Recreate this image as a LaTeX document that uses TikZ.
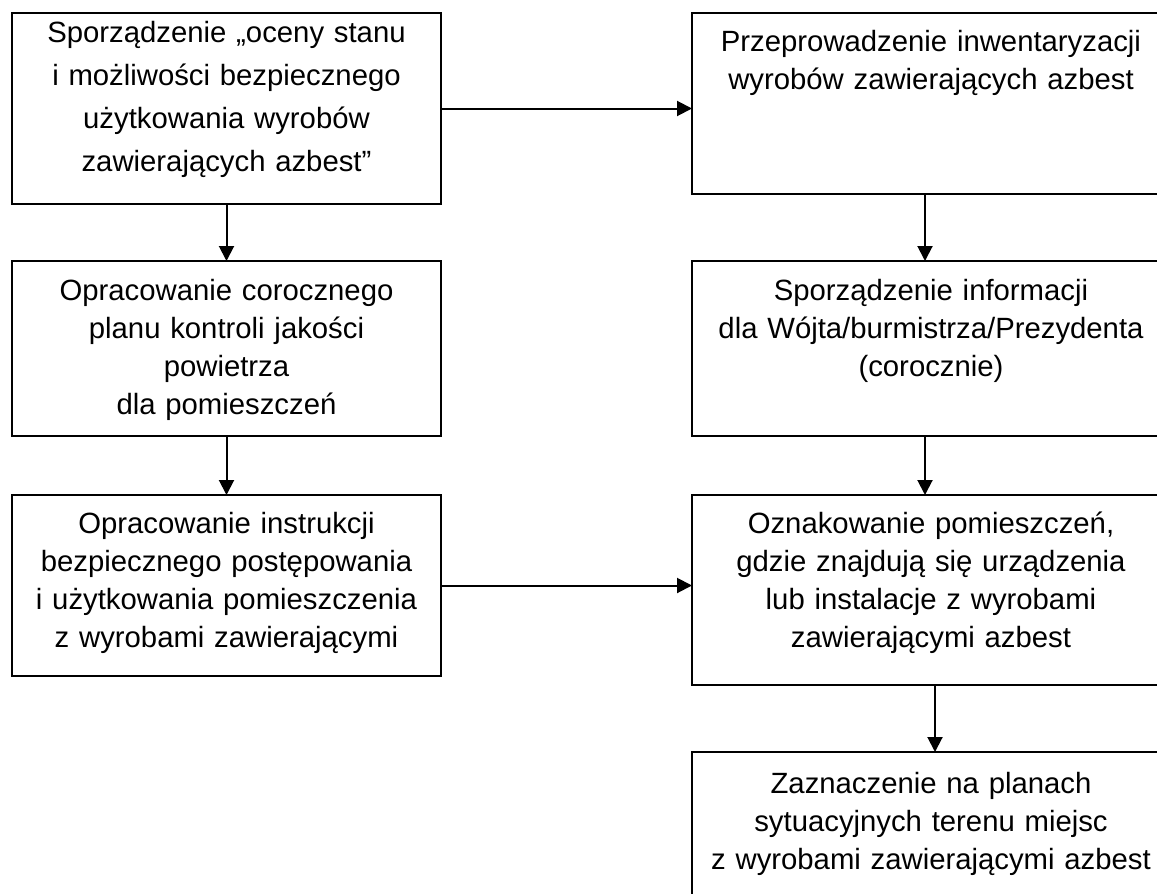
\documentclass[tikz,border=0pt]{standalone}
\usepackage{fontspec}
\setmainfont{Liberation Sans}
\usetikzlibrary{arrows.meta}
\tikzset{
  box/.style = {
    draw, anchor=north, align=center,
    inner xsep=0pt, inner ysep=0pt, outer sep=0pt,
    font=\fontsize{29.3}{38}\selectfont
  },
  lbox/.style = {box, text width=429pt},
  rbox/.style = {box, text width=478pt}
}
\tikzset{>={Triangle[length=15pt,width=15pt]}}

\begin{document}
\begin{tikzpicture}[x=1pt,y=-1pt,line width=2pt]
  \useasboundingbox (0,0) rectangle (1157,894);
  \clip (0,0) rectangle (1157,894);
  \node[lbox,text height=29.3pt,text depth=161.7pt,font=\fontsize{29.3}{43}\selectfont] (ocena) at (226.5,13)
    {Sporządzenie „oceny stanu\\i możliwości bezpiecznego\\użytkowania wyrobów\\zawierających azbest”};
  \node[lbox,text height=39pt,text depth=136pt] (plan) at (226.5,261)
    {Opracowanie corocznego\\planu kontroli jakości\\powietrza\\dla pomieszczeń};
  \node[lbox,text height=38pt,text depth=143pt] (instr) at (226.5,495)
    {Opracowanie instrukcji\\bezpiecznego postępowania\\i użytkowania pomieszczenia\\z wyrobami zawierającymi};
  \node[rbox,text height=38.7pt,text depth=142.3pt] (inwent) at (931,13)
    {Przeprowadzenie inwentaryzacji\\wyrobów zawierających azbest};
  \node[rbox,text height=39pt,text depth=136pt] (info) at (931,261)
    {Sporządzenie informacji\\dla Wójta/burmistrza/Prezydenta\\(corocznie)};
  \node[rbox,text height=38pt,text depth=152pt] (oznak) at (931,495)
    {Oznakowanie pomieszczeń,\\gdzie znajdują się urządzenia\\lub instalacje z wyrobami\\zawierającymi azbest};
  \node[rbox,text height=41pt,text depth=160pt] (zazn) at (931,752)
    {Zaznaczenie na planach\\sytuacyjnych terenu miejsc\\z wyrobami zawierającymi azbest};
  \draw[->] (ocena) -- (plan);
  \draw[->] (plan) -- (instr);
  \draw[->] (ocena.east) -- (ocena.east -| inwent.west);
  \draw[->] (instr.east) -- (instr.east -| oznak.west);
  \draw[->] ([xshift=-6pt]inwent.south) -- ([xshift=-6pt]info.north);
  \draw[->] ([xshift=-6pt]info.south) -- ([xshift=-6pt]oznak.north);
  \draw[->] ([xshift=4pt]oznak.south) -- ([xshift=4pt]zazn.north);
\end{tikzpicture}
\end{document}
